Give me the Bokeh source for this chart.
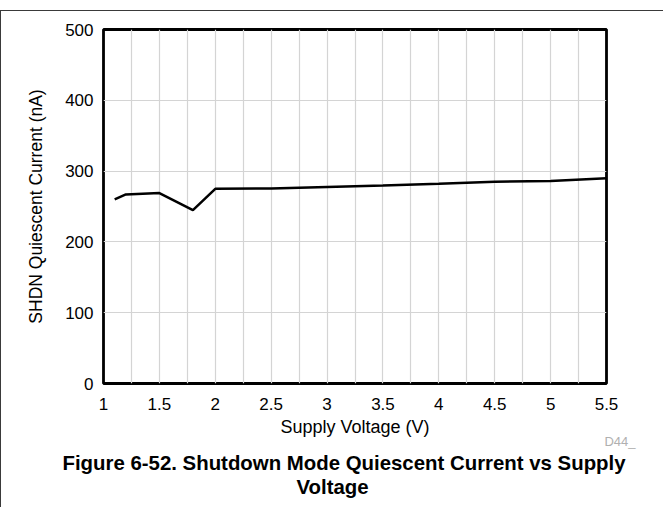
from bokeh.plotting import figure
from bokeh.models import Range1d, FixedTicker, Title
from bokeh.embed import file_html
from bokeh.resources import INLINE

# Data
supply_v = [1.1, 1.2, 1.5, 1.8, 2.0, 2.5, 3.0, 3.5, 4.0, 4.5, 5.0, 5.5]
shdn_iq_na = [260, 267, 269, 245, 275, 275.5, 277.5, 279.5, 282, 285, 286, 290]

x_ticks = [1, 1.5, 2, 2.5, 3, 3.5, 4, 4.5, 5, 5.5]
x_grid = [1 + 0.25 * i for i in range(1, 18)]
y_ticks = [0, 100, 200, 300, 400, 500]

x_label = "Supply Voltage (V)"
y_label = "SHDN Quiescent Current (nA)"
caption_1 = "Figure 6-52. Shutdown Mode Quiescent Current vs Supply"
caption_2 = "Voltage"
tag = "D44_"

FONT = "Liberation Sans"

p = figure(width=663, height=497, output_backend="svg", toolbar_location=None,
           x_range=Range1d(1, 5.5), y_range=Range1d(0, 500),
           min_border_left=102, min_border_right=58, min_border_top=18, min_border_bottom=125)
p.styles = {"position": "absolute", "left": "0px", "top": "10px",
            "border-top": "1px solid #3a3a3a", "border-left": "1px solid #3a3a3a"}

p.outline_line_color = "black"
p.outline_line_width = 2.8
p.background_fill_color = "white"
p.border_fill_color = "white"

p.line(supply_v, shdn_iq_na, line_color="black", line_width=2.5)

p.xaxis.ticker = FixedTicker(ticks=x_ticks)
p.yaxis.ticker = FixedTicker(ticks=y_ticks)
p.xgrid.ticker = FixedTicker(ticks=x_grid)
p.ygrid.ticker = FixedTicker(ticks=[100, 200, 300, 400])
for g in (p.xgrid, p.ygrid):
    g.grid_line_color = "#d4d4d4"
    g.grid_line_width = 1.2

for ax in (p.xaxis, p.yaxis):
    ax.axis_line_color = None
    ax.major_tick_line_color = None
    ax.minor_tick_line_color = None
    ax.major_tick_out = 0
    ax.major_tick_in = 0
    ax.major_label_text_font = FONT
    ax.major_label_text_font_size = "17px"
    ax.major_label_text_color = "black"
    ax.axis_label_text_font = FONT
    ax.axis_label_text_font_style = "normal"
    ax.axis_label_text_color = "black"

p.xaxis.axis_label = x_label
p.yaxis.axis_label = y_label
p.xaxis.axis_label_text_font_size = "18px"
p.yaxis.axis_label_text_font_size = "17.5px"
p.xaxis.major_label_standoff = 14
p.yaxis.major_label_standoff = 10
p.xaxis.axis_label_standoff = 4
p.yaxis.axis_label_standoff = 16

t_tag = Title(text=tag, align="right", offset=-29, standoff=-16,
              text_font=FONT, text_font_size="13px", text_font_style="normal",
              text_color="#b0b0b0")
t_cap1 = Title(text=caption_1, align="left", offset=-41, standoff=18,
               text_font=FONT, text_font_size="20.4px", text_font_style="bold",
               text_color="black")
t_cap2 = Title(text=caption_2, align="left", offset=193, standoff=-18,
               text_font=FONT, text_font_size="20.4px", text_font_style="bold",
               text_color="black")
p.add_layout(t_tag, "below")
p.add_layout(t_cap1, "below")
p.add_layout(t_cap2, "below")

open("out.html", "w").write(file_html(p, INLINE))
